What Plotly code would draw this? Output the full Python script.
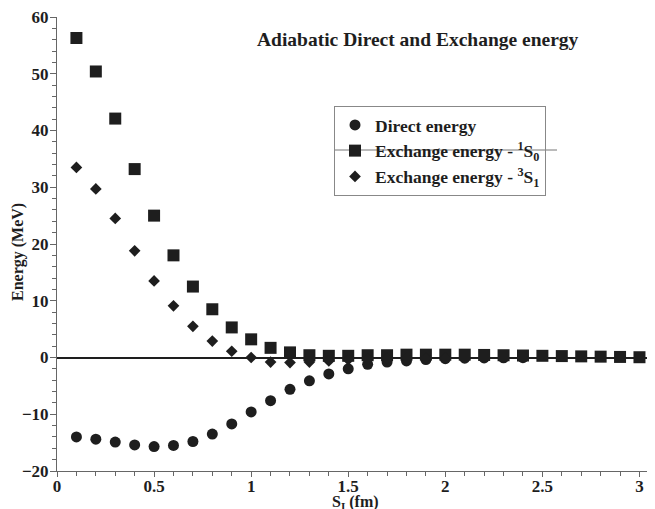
import plotly.graph_objects as go

x_direct = [0.1,0.2,0.3,0.4,0.5,0.6,0.7,0.8,0.9,1.0,1.1,1.2,1.3,1.4,1.5,1.6,1.7,1.8,1.9,2.0,2.1,2.2,2.3,2.4]
direct = [-14.0,-14.4,-14.9,-15.4,-15.7,-15.5,-14.8,-13.5,-11.7,-9.6,-7.6,-5.6,-4.1,-2.9,-2.0,-1.2,-0.8,-0.6,-0.35,-0.2,-0.12,-0.08,-0.05,-0.03]

x_ex1 = [0.1,0.2,0.3,0.4,0.5,0.6,0.7,0.8,0.9,1.0,1.1,1.2,1.3,1.4,1.5,1.6,1.7,1.8,1.9,2.0,2.1,2.2,2.3,2.4,2.5,2.6,2.7,2.8,2.9,3.0]
ex_1s0 = [56.3,50.4,42.1,33.2,25.0,18.0,12.5,8.5,5.3,3.2,1.7,0.9,0.4,0.3,0.3,0.4,0.4,0.5,0.5,0.5,0.5,0.45,0.4,0.35,0.3,0.25,0.2,0.15,0.1,0.05]

x_ex3 = [0.1,0.2,0.3,0.4,0.5,0.6,0.7,0.8,0.9,1.0,1.1,1.2,1.3,1.4,1.5,1.6,1.7,1.8,1.9,2.0]
ex_3s1 = [33.5,29.7,24.5,18.8,13.5,9.1,5.5,2.9,1.1,0.0,-0.8,-0.9,-0.8,-0.6,-0.4,-0.3,-0.2,-0.15,-0.1,-0.05]

ink = "#1e1e1e"
axc = "#666"
fam = "Liberation Serif"
OFF = 8  # page body margin in the browser
FW, FH = 655 - OFF, 509 - OFF
L, T, W, H = 57 - OFF, 17 - OFF, 598, 454

def px(xp):
    return (xp - OFF - L) / W

def py(yp):
    return 1 - (yp - OFF - T) / H

fig = go.Figure()
fig.add_trace(go.Scatter(x=x_direct, y=direct, mode="markers", name="Direct energy",
                         marker=dict(symbol="circle", size=11, color=ink)))
fig.add_trace(go.Scatter(x=x_ex1, y=ex_1s0, mode="markers", name="Exchange energy - <sup>1</sup>S<sub>0</sub>",
                         marker=dict(symbol="square", size=12, color=ink)))
fig.add_trace(go.Scatter(x=x_ex3, y=ex_3s1, mode="markers", name="Exchange energy - <sup>3</sup>S<sub>1</sub>",
                         marker=dict(symbol="diamond", size=9, color=ink)))

fig.update_layout(
    width=FW, height=FH,
    margin=dict(l=L, r=FW - L - W, t=T, b=FH - T - H),
    paper_bgcolor="white", plot_bgcolor="white",
    font=dict(family=fam, size=17, color=ink, weight="bold"),
    showlegend=True,
    legend=dict(x=px(334), y=py(106), xanchor="left", yanchor="top",
                bordercolor="#888", borderwidth=1, bgcolor="rgba(255,255,255,0)",
                font=dict(family=fam, size=17.5, color=ink, weight="bold"),
                tracegroupgap=0, itemwidth=30),
    annotations=[
        dict(text="Adiabatic Direct and Exchange energy", x=px(417.5), y=py(40),
             xref="paper", yref="paper", showarrow=False, xanchor="center", yanchor="middle",
             font=dict(family=fam, size=19.5, color=ink, weight="bold")),
        dict(text="S<sub>I</sub> (fm)", x=px(355), y=py(502),
             xref="paper", yref="paper", showarrow=False, xanchor="center", yanchor="middle",
             font=dict(family=fam, size=16, color=ink, weight="bold")),
        dict(text="Energy (MeV)", x=px(18), y=py(252), textangle=-90,
             xref="paper", yref="paper", showarrow=False, xanchor="center", yanchor="middle",
             font=dict(family=fam, size=16, color=ink, weight="bold")),
    ],
    shapes=[dict(type="line", xref="paper", yref="paper", x0=px(334), x1=px(557),
                 y0=py(150), y1=py(150), line=dict(color="#777", width=1))],
)

fig.update_xaxes(range=[0, 3.08], tickvals=[0,0.5,1,1.5,2,2.5,3], ticktext=["0","0.5","1","1.5","2","2.5","3"],
                 automargin=False, ticklabeloverflow="allow", ticklabelstandoff=-5,
                 showline=True, linecolor=axc, linewidth=1, ticks="outside", ticklen=5, tickcolor=axc,
                 minor=dict(dtick=0.1, ticks="outside", ticklen=4, tickcolor=axc, showgrid=False),
                 showgrid=False, zeroline=False)
fig.update_yaxes(range=[-20, 60], dtick=10, automargin=False, ticklabeloverflow="allow", ticklabelstandoff=-2,
                 showline=True, linecolor=axc, linewidth=1, ticks="outside", ticklen=6, tickcolor=axc,
                 minor=dict(dtick=2, ticks="outside", ticklen=4, tickcolor=axc, showgrid=False),
                 showgrid=False, zeroline=True, zerolinecolor=ink, zerolinewidth=1.5)

fig.write_html("out.html")
